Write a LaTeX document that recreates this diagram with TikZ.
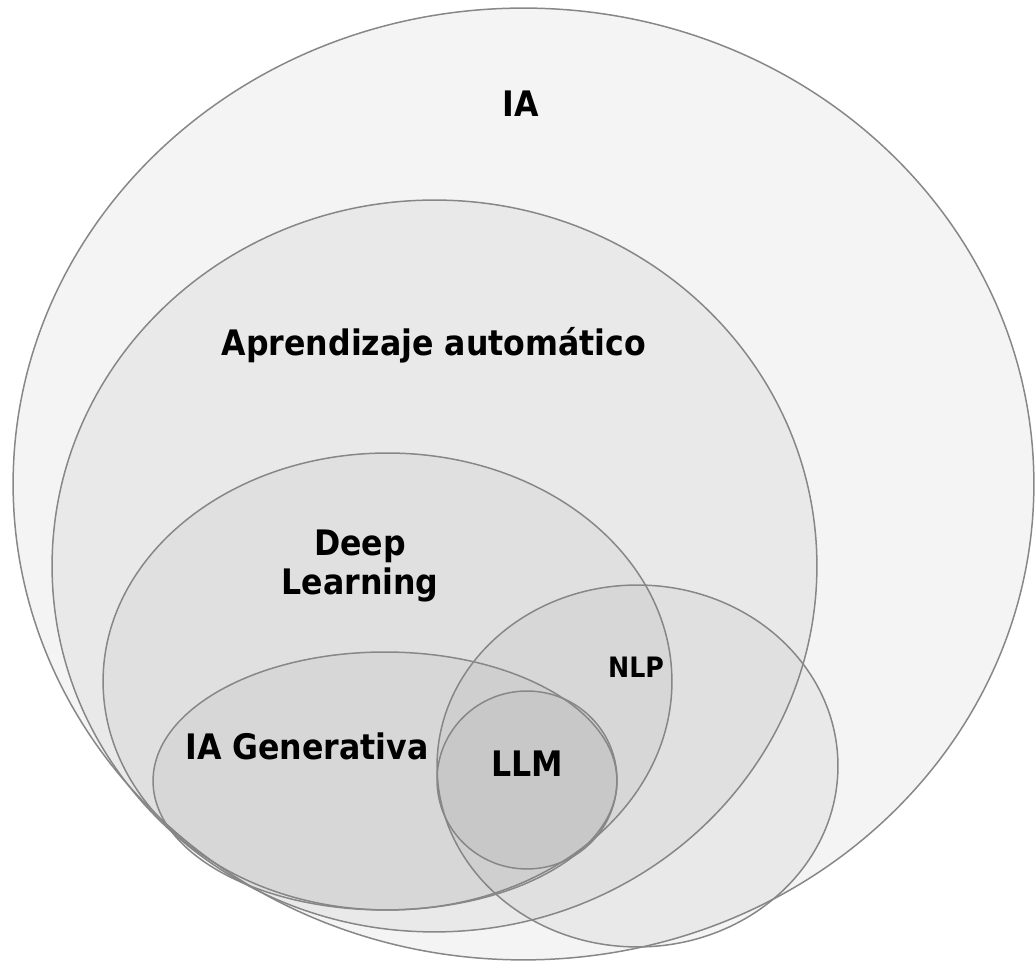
\documentclass[tikz,border=0pt]{standalone}
\usepackage{fontspec}
\setmainfont{DejaVu Sans Condensed}
\usetikzlibrary{shapes.geometric}

\begin{document}
\begin{tikzpicture}[x=0.02cm,y=0.02cm,
  set/.style={ellipse,draw=black!47,line width=0.85pt,fill=black!50,fill opacity=0.09,inner sep=0pt,outer sep=0pt},
  lbl/.style={font=\fontsize{20}{22}\selectfont\bfseries,text=black,align=center},
  sublbl/.style={font=\fontsize{16}{20}\selectfont\bfseries,text=black}]
\useasboundingbox (0,0) rectangle (1036,963);
% the sets
\node[set,minimum width=20.42cm,minimum height=19.04cm] (ia) at (523.5,479) {};
\node[set,minimum width=15.3cm,minimum height=14.64cm] (aa) at (434.5,397) {};
\node[set,minimum width=11.38cm,minimum height=9.14cm] (dl) at (387.5,281.5) {};
\node[set,minimum width=8.02cm,minimum height=7.24cm] (nlp) at (637.5,197) {};
\node[set,minimum width=9.28cm,minimum height=5.16cm] (gen) at (385,182) {};
\node[set,minimum width=3.6cm,minimum height=3.56cm] (llm) at (527,183) {};

% labels
\node[lbl] (iaText) at (521,859) {IA};
\node[lbl] (aaText) at (434,618) {Aprendizaje automático};
\node[lbl] (dlText) at (360,397) {Deep\\Learning};
\node[sublbl] (nlpText) at (636,296) {NLP};
\node[lbl] (genText) at (307,217) {IA Generativa};
\node[lbl] (llmText) at (527,199) {LLM};
\end{tikzpicture}
\end{document}
